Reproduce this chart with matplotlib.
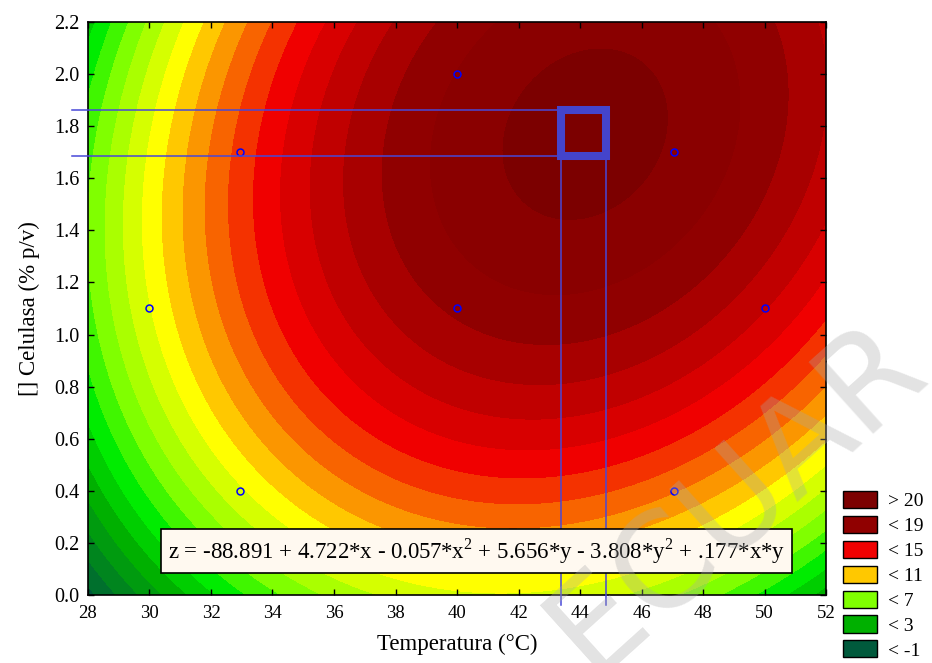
import numpy as np
import matplotlib
matplotlib.use("Agg")
import matplotlib.pyplot as plt
from matplotlib.colors import ListedColormap, to_rgb
from matplotlib.patches import Patch, Rectangle

# fitted model shown on the chart: z = b0 + b1*x + b2*x^2 + b3*y + b4*y^2 + b5*x*y
coef = [-88.891, 4.722, -0.057, 5.656, -3.808, 0.177]

# design points (Temperatura, Celulasa)
pts_x = [30, 32.93, 32.93, 40, 40, 47.07, 47.07, 50]
pts_y = [1.1, 1.7, 0.4, 2.0, 1.1, 1.7, 0.4, 1.1]

# optimum region marked on the chart
opt_x = [43.39, 44.85]
opt_y = [1.685, 1.861]

levels = np.arange(-1, 21, 1)
legend_labels = ["> 20", "< 19", "< 15", "< 11", "< 7", "< 3", "< -1"]
legend_colors = ["#7c0000", "#900000", "#f00000", "#ffc800", "#80ff00", "#00b000", "#005a3c"]

# colour anchors (upper bound of band -> colour)
anchor_z = [-1, 3, 5, 7, 10, 11, 15, 19, 20]
anchor_c = ["#005a3c", "#00b000", "#00ec00", "#80ff00", "#ffff00", "#ffc800",
            "#f00000", "#900000", "#8a0000"]

plt.rcParams['font.family'] = ['Liberation Serif', 'DejaVu Serif']
plt.rcParams['mathtext.fontset'] = 'custom'
plt.rcParams['mathtext.rm'] = 'Liberation Serif'

# band colours, one per interval [k, k+1)
band_ub = levels[1:]
ac = np.array([to_rgb(c) for c in anchor_c])
band_cols = [tuple(np.interp(u, anchor_z, ac[:, i]) for i in range(3)) for u in band_ub]
cmap = ListedColormap(band_cols)
cmap.set_under(anchor_c[0])
cmap.set_over("#7c0000")

xg = np.linspace(28, 52, 500)
yg = np.linspace(0, 2.2, 500)
X, Y = np.meshgrid(xg, yg)
Z = coef[0] + coef[1] * X + coef[2] * X**2 + coef[3] * Y + coef[4] * Y**2 + coef[5] * X * Y

fig = plt.figure(figsize=(9.32, 6.63), dpi=100)
ax = fig.add_axes([0.0944, 0.1026, 0.7919, 0.8642])
ax.contourf(X, Y, Z, levels=levels, cmap=cmap, extend='both')

ax.plot(pts_x, pts_y, 'o', mfc='none', mec='#0000ff', ms=5, mew=1.1, zorder=5)

lc = '#4848d8'
for yy in opt_y:
    ax.plot([27.48, opt_x[0]], [yy, yy], color=lc, lw=1.1, clip_on=False, zorder=6)
for xx in opt_x:
    ax.plot([xx, xx], [-0.04, opt_y[0]], color=lc, lw=1.1, clip_on=False, zorder=6)
ax.add_patch(Rectangle((opt_x[0], opt_y[0]), opt_x[1] - opt_x[0], opt_y[1] - opt_y[0],
                       fill=False, ec='#4444cc', lw=5.8, zorder=7, joinstyle='miter'))

ax.set_xlim(28, 52)
ax.set_ylim(0, 2.2)
ax.set_xticks(np.arange(28, 53, 2))
ax.set_yticks(np.arange(0, 2.21, 0.2))
ax.set_yticklabels([f"{v:.1f}" for v in np.arange(0, 2.21, 0.2)])
ax.tick_params(direction='in', top=True, right=True, length=4, width=1)
ax.tick_params(axis='x', labelsize=13.5, pad=7)
ax.tick_params(axis='y', labelsize=14.5, pad=6)
for s in ax.spines.values():
    s.set_linewidth(1.2)

ax.set_xlabel("Temperatura (°C)", fontsize=16.5, labelpad=9)
ax.set_ylabel("[] Celulasa (% p/v)", fontsize=16.5, labelpad=10)

ax.text(0.527, 0.077,
        "z = -88.891 + 4.722*x - 0.057*x$^2$ + 5.656*y - 3.808*y$^2$ + .177*x*y",
        transform=ax.transAxes, ha='center', va='center', fontsize=16.5, zorder=8,
        bbox=dict(boxstyle='square,pad=0.3', fc='#fff9f0', ec='black', lw=1.2))

handles = [Patch(facecolor=c, edgecolor='black', lw=1) for c in legend_colors]
fig.legend(handles, legend_labels, loc='upper left', bbox_to_anchor=(843 / 932, 1 - 491 / 663),
           frameon=False, fontsize=14, handlelength=1.75, handleheight=0.98,
           labelspacing=0.29, handletextpad=0.57, borderpad=0, borderaxespad=0)

# faint diagonal watermark, partly off the page as in the source
fig.text(592 / 932, -14 / 663, "ECUAR", rotation=42, rotation_mode='anchor',
         ha='left', va='baseline', fontsize=95, family='DejaVu Sans',
         color='#a8a8a8', alpha=0.32, zorder=20)

fig.savefig("out.png", dpi=100)
